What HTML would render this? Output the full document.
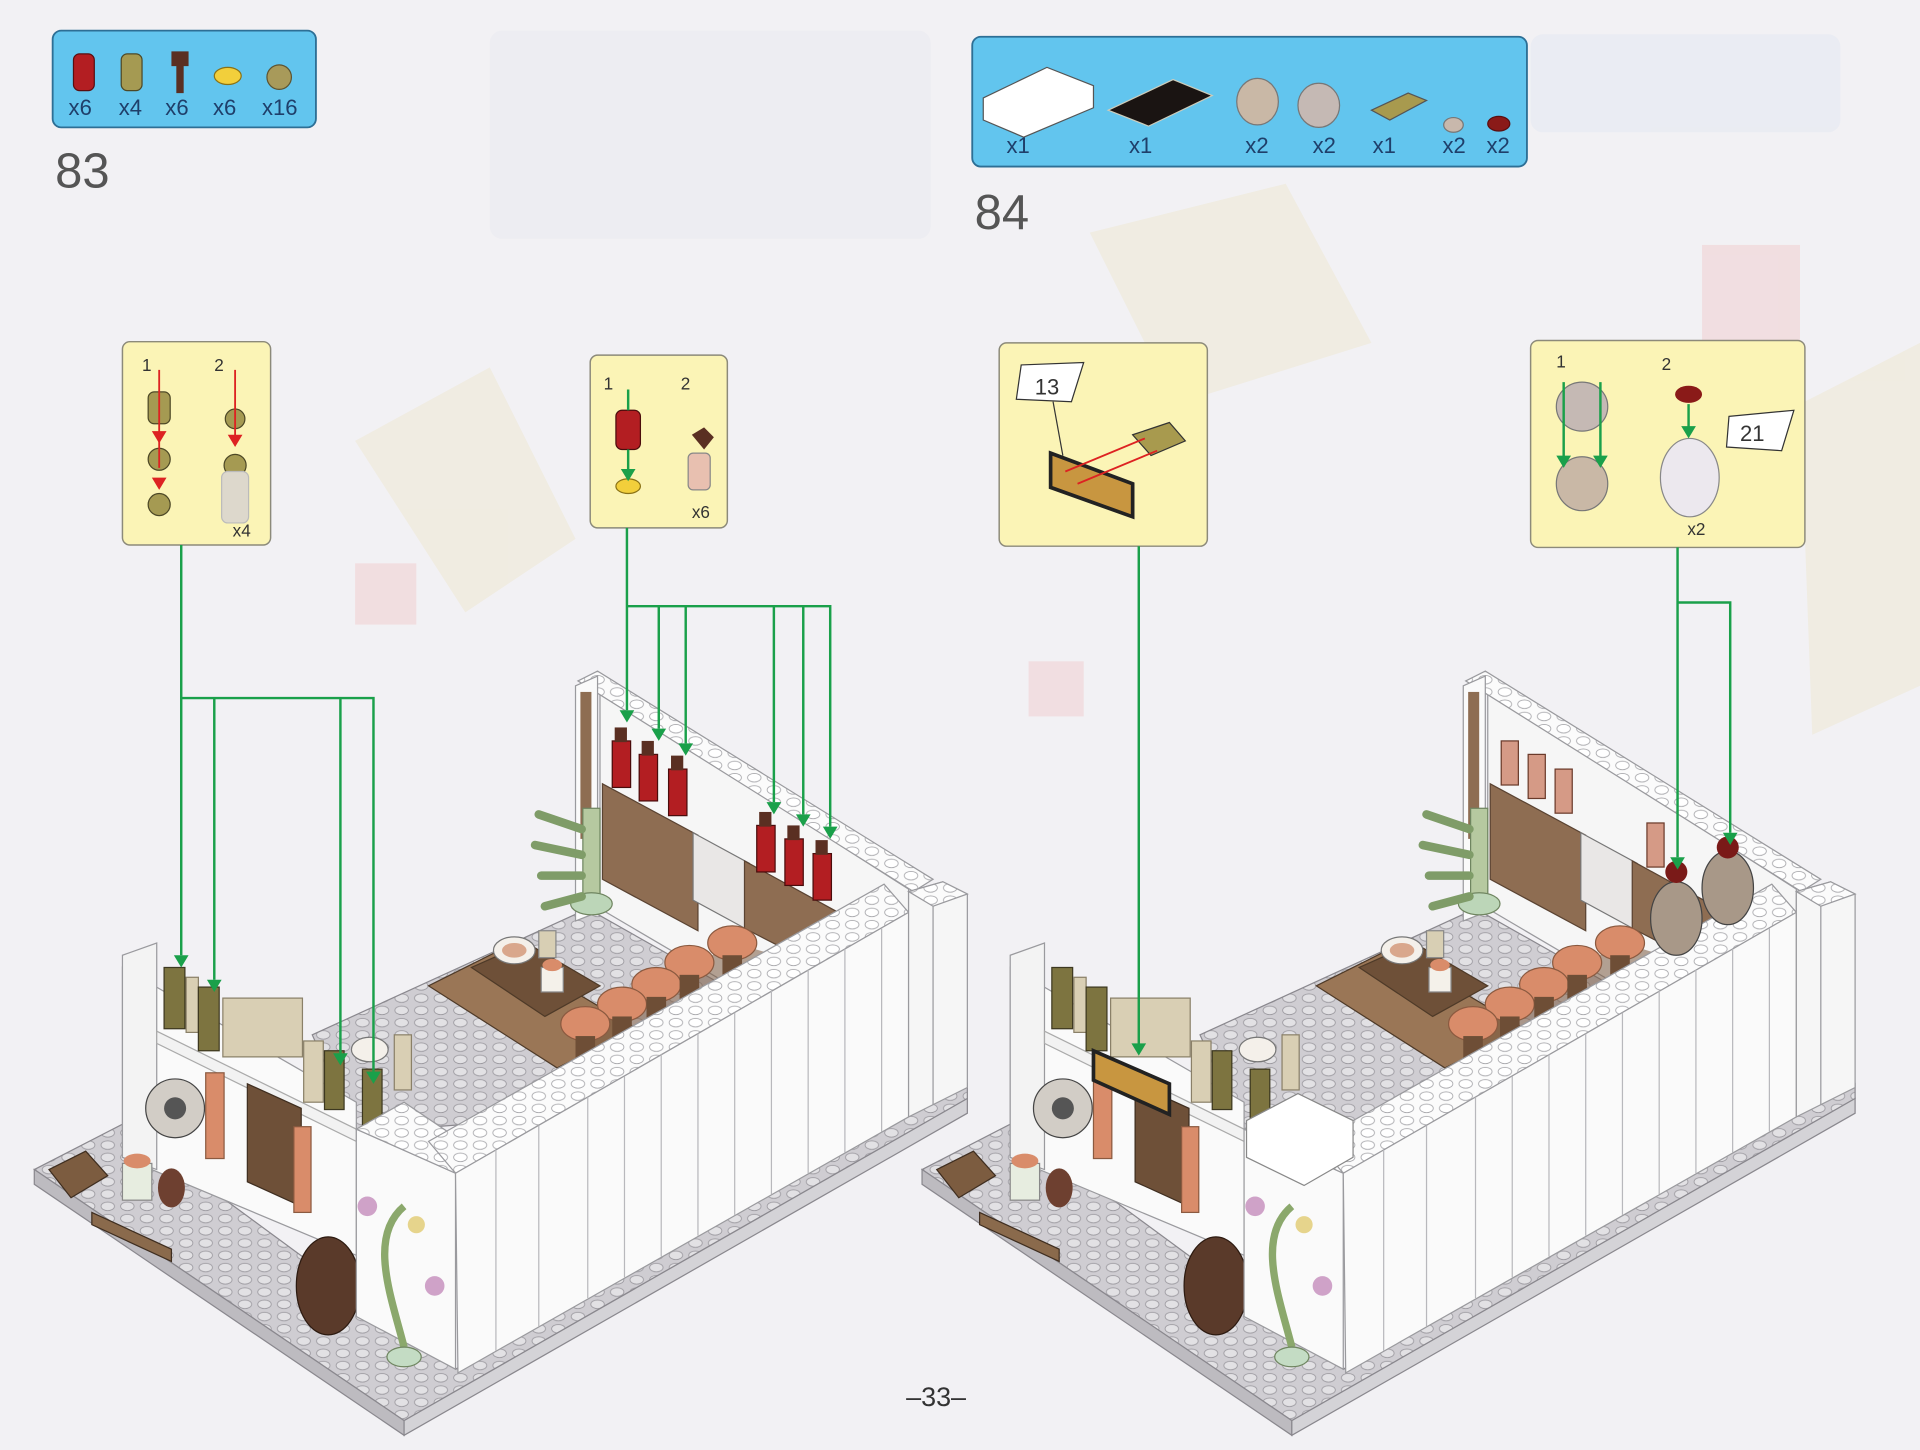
<!DOCTYPE html>
<html><head><meta charset="utf-8"><style>
html,body{margin:0;padding:0;background:#f2f1f4;}
svg{display:block}
text{font-family:"Liberation Sans",sans-serif}
</style></head><body>
<svg width="1920" height="1450" viewBox="0 0 1568 1184" preserveAspectRatio="none" xmlns="http://www.w3.org/2000/svg">
<defs>
<pattern id="studs" width="16" height="10" patternUnits="userSpaceOnUse">
<rect width="16" height="10" fill="#cfcdd2"/><ellipse cx="8" cy="5" rx="5.5" ry="3.5" fill="#e2e1e4" stroke="#9c9aa0" stroke-width="0.7"/>
</pattern>
<pattern id="wstuds" width="16" height="10" patternUnits="userSpaceOnUse">
<rect width="16" height="10" fill="#fbfbfb"/><ellipse cx="8" cy="5" rx="5.5" ry="3.5" fill="#fff" stroke="#a8a8ac" stroke-width="0.7"/>
</pattern>
<g id="bld">
 <!-- base plate -->
 <polygon points="28,955 100,918 372,1118 790,885 790,897 330,1160" fill="url(#studs)" stroke="#8a888e"/>
 <polygon points="28,955 330,1160 330,1172 28,967" fill="#bdbbc0" stroke="#8a888e"/>
 <polygon points="330,1160 790,897 790,909 330,1172" fill="#d4d3d7" stroke="#8a888e"/>
 <!-- interior floor -->
 <polygon points="255,845 480,742 742,890 291,925" fill="url(#studs)" stroke="#8a888e"/>
 <!-- back wall -->
 <polygon points="490,565 742,726 742,890 490,742" fill="#f6f6f6" stroke="#9a9a9e"/>
 <polygon points="472,556 488,548 762,718 746,728" fill="url(#wstuds)" stroke="#9a9a9e"/>
 <polygon points="470,560 488,552 488,745 470,752" fill="#fafafa" stroke="#9a9a9e"/>
 <rect x="474" y="565" width="9" height="120" fill="#8e6d52"/>
 <polygon points="492,640 570,682 570,760 492,718" fill="#8e6d52" stroke="#5a4332"/>
 <polygon points="566,680 612,705 612,760 566,735" fill="#e9e7e6" stroke="#777"/>
 <polygon points="608,703 690,748 690,800 608,758" fill="#8e6d52" stroke="#5a4332"/>
 <!-- bamboo -->
 <rect x="476" y="660" width="14" height="80" fill="#b6c9a0" stroke="#6f8560"/>
 <ellipse cx="483" cy="738" rx="17" ry="9" fill="#bcd6b8" stroke="#6f8560"/>
 <path d="M440,665 l35,12 M437,690 l38,8 M442,715 l33,0 M445,740 l30,-8" stroke="#7f9c68" stroke-width="7" stroke-linecap="round"/>
 <!-- furniture -->
 <polygon points="350,805 410,775 520,840 455,872" fill="#9a7656" stroke="#4e3a28"/>
 <polygon points="385,790 430,770 490,805 445,830" fill="#6e5038" stroke="#4e3a28"/>
 <ellipse cx="420" cy="776" rx="17" ry="11" fill="#f4f0ea" stroke="#777"/>
 <ellipse cx="420" cy="776" rx="10" ry="6" fill="#d9a78c"/>
 <rect x="442" y="790" width="18" height="20" fill="#f4f1ea" stroke="#888"/>
 <ellipse cx="451" cy="788" rx="8" ry="5" fill="#d98c6a"/>
 <rect x="440" y="760" width="14" height="22" fill="#d8cfb4" stroke="#888"/>
 <polygon points="470,840 600,770 700,800 600,870 500,905" fill="#7a5a40" opacity="0.55"/>
 <g fill="#d98c6a" stroke="#8b5a40">
  <ellipse cx="598" cy="770" rx="20" ry="14"/><ellipse cx="563" cy="786" rx="20" ry="14"/>
  <ellipse cx="536" cy="804" rx="20" ry="14"/><ellipse cx="508" cy="820" rx="20" ry="14"/>
  <ellipse cx="478" cy="836" rx="20" ry="14"/>
 </g>
 <g fill="#6e4e36"><rect x="470" y="846" width="16" height="30"/><rect x="500" y="830" width="16" height="30"/><rect x="528" y="814" width="16" height="30"/><rect x="555" y="796" width="16" height="30"/><rect x="590" y="780" width="16" height="30"/></g>
 <!-- left block (door face) -->
 <polygon points="100,790 291,900 291,1025 100,945" fill="#fafafa" stroke="#9a9a9e"/>
 <polygon points="100,780 128,770 128,955 100,945" fill="#f3f3f3" stroke="#9a9a9e"/>
 <polygon points="128,842 291,922 291,932 128,852" fill="#f2f2f2" stroke="#aaa"/>
 <!-- shelf items -->
 <rect x="134" y="790" width="17" height="50" fill="#7d7440" stroke="#3d3820"/>
 <rect x="152" y="798" width="10" height="45" fill="#d9cfb4" stroke="#8a8068"/>
 <rect x="162" y="806" width="17" height="52" fill="#7d7440" stroke="#3d3820"/>
 <rect x="182" y="815" width="65" height="48" fill="#d9cfb4" stroke="#8a8068"/>
 <rect x="248" y="850" width="16" height="50" fill="#d9cfb4" stroke="#8a8068"/>
 <rect x="265" y="858" width="16" height="48" fill="#7d7440" stroke="#3d3820"/>
 <rect x="296" y="873" width="16" height="48" fill="#7d7440" stroke="#3d3820"/>
 <ellipse cx="302" cy="857" rx="15" ry="10" fill="#f4f0ea" stroke="#777"/>
 <rect x="322" y="845" width="14" height="45" fill="#d9cfb4" stroke="#8a8068"/>
 <!-- door and lamp -->
 <circle cx="143" cy="905" r="24" fill="#d2cdc6" stroke="#444"/><circle cx="143" cy="905" r="9" fill="#555"/>
 <polygon points="202,885 246,905 246,985 202,965" fill="#6e5038" stroke="#3f2e20"/>
 <rect x="168" y="876" width="15" height="70" fill="#d98c6a" stroke="#8b5a40"/>
 <rect x="240" y="920" width="14" height="70" fill="#d98c6a" stroke="#8b5a40"/>
 <!-- pots and plants front -->
 <ellipse cx="268" cy="1050" rx="26" ry="40" fill="#5a3a2a" stroke="#2c1a10"/>
 <rect x="100" y="950" width="24" height="30" fill="#e7ede0" stroke="#888"/>
 <ellipse cx="112" cy="948" rx="11" ry="6" fill="#d98c6a"/>
 <ellipse cx="140" cy="970" rx="11" ry="16" fill="#6e4030"/>
 <polygon points="40,955 70,940 88,960 58,978" fill="#7c5c40" stroke="#3f2e20"/>
 <polygon points="75,990 140,1020 140,1030 75,1000" fill="#8a6a4c" stroke="#3f2e20"/>
 <!-- flower block -->
 <polygon points="291,922 372,958 372,1118 291,1075" fill="#fafafa" stroke="#9a9a9e"/>
 <polygon points="291,922 330,900 395,944 372,958" fill="url(#wstuds)" stroke="#9a9a9e"/>
 <path d="M330,1100 C320,1060 300,1010 330,985" stroke="#8ba86c" stroke-width="6" fill="none"/>
 <circle cx="300" cy="985" r="8" fill="#cfa2c8"/><circle cx="355" cy="1050" r="8" fill="#cfa2c8"/><circle cx="340" cy="1000" r="7" fill="#e6d48c"/>
 <ellipse cx="330" cy="1108" rx="14" ry="8" fill="#c4dcc4" stroke="#6f8560"/>
 <!-- front wall top strip -->
 <polygon points="350,932 722,722 742,745 372,958" fill="url(#wstuds)" stroke="#9a9a9e"/>
 <!-- front right face -->
 <polygon points="372,958 742,745 742,912 374,1121" fill="#fafafa" stroke="#9a9a9e"/>
 <g stroke="#b8b8bc" stroke-width="1">
  <line x1="405" y1="939" x2="405" y2="1103"/><line x1="440" y1="919" x2="440" y2="1083"/>
  <line x1="480" y1="896" x2="480" y2="1060"/><line x1="510" y1="879" x2="510" y2="1043"/>
  <line x1="540" y1="861" x2="540" y2="1026"/><line x1="570" y1="844" x2="570" y2="1009"/>
  <line x1="600" y1="827" x2="600" y2="992"/><line x1="630" y1="809" x2="630" y2="975"/>
  <line x1="660" y1="792" x2="660" y2="958"/><line x1="690" y1="775" x2="690" y2="941"/>
  <line x1="720" y1="758" x2="720" y2="924"/>
 </g>
 <!-- right end block -->
 <polygon points="742,728 770,720 790,730 790,888 742,912" fill="#f6f6f6" stroke="#9a9a9e"/>
 <polygon points="742,728 770,720 790,730 762,740" fill="url(#wstuds)" stroke="#9a9a9e"/>
 <line x1="762" y1="740" x2="762" y2="902" stroke="#9a9a9e"/>
</g>
</defs>

<!-- faint watermark -->
<g opacity="0.18">
<rect x="400" y="25" width="360" height="170" rx="10" fill="#d8dcea"/>
<rect x="1250" y="28" width="253" height="80" rx="10" fill="#c8d8ec"/>
<polygon points="290,360 400,300 470,440 380,500" fill="#e8d690"/>
<polygon points="890,190 1050,150 1120,280 960,330" fill="#e8d690"/>
<rect x="1390" y="200" width="80" height="80" fill="#f08a8a"/>
<rect x="290" y="460" width="50" height="50" fill="#f08a8a"/>
<rect x="840" y="540" width="45" height="45" fill="#f08a8a"/>
<polygon points="1470,330 1568,280 1568,560 1480,600" fill="#e8d690"/>
</g>

<!-- parts box 83 -->
<rect x="43" y="25" width="215" height="79" rx="7" fill="#62c5ee" stroke="#2d6f95" stroke-width="1.5"/>
<rect x="60" y="44" width="17" height="30" rx="5" fill="#b31e22" stroke="#5a0e10"/>
<rect x="99" y="44" width="17" height="30" rx="5" fill="#a59a52" stroke="#4d4826"/>
<path d="M140,42 h14 v12 h-4 v22 h-6 v-22 h-4z" fill="#5a2f22"/>
<ellipse cx="186" cy="62" rx="11" ry="7" fill="#f2cf3b" stroke="#8a7216"/>
<ellipse cx="228" cy="63" rx="10" ry="10" fill="#a89a5a" stroke="#5d5431"/>
<g font-size="18" fill="#1f3f6a">
<text x="56" y="94">x6</text><text x="97" y="94">x4</text><text x="135" y="94">x6</text><text x="174" y="94">x6</text><text x="214" y="94">x16</text>
</g>
<text x="45" y="153" font-size="40" fill="#555">83</text>

<!-- parts box 84 -->
<rect x="794" y="30" width="453" height="106" rx="7" fill="#62c5ee" stroke="#2d6f95" stroke-width="1.5"/>
<polygon points="803,80 855,55 893,70 893,88 836,112 803,98" fill="#fff" stroke="#555"/>
<polygon points="905,90 958,65 990,78 938,103" fill="#1a1412" stroke="#ccb"/>
<ellipse cx="1027" cy="83" rx="17" ry="19" fill="#c9b8a6" stroke="#777"/>
<ellipse cx="1077" cy="86" rx="17" ry="18" fill="#c5b9b4" stroke="#777"/>
<polygon points="1120,90 1150,76 1165,82 1135,98" fill="#a89a4e" stroke="#555"/>
<ellipse cx="1187" cy="102" rx="8" ry="6" fill="#c8b8ac" stroke="#777"/>
<ellipse cx="1224" cy="101" rx="9" ry="6" fill="#8a1a18" stroke="#5a0e10"/>
<g font-size="18" fill="#1f3f6a">
<text x="822" y="125">x1</text><text x="922" y="125">x1</text><text x="1017" y="125">x2</text><text x="1072" y="125">x2</text><text x="1121" y="125">x1</text><text x="1178" y="125">x2</text><text x="1214" y="125">x2</text>
</g>
<text x="796" y="187" font-size="40" fill="#555">84</text>

<!-- buildings -->
<use href="#bld"/>
<use href="#bld" transform="translate(725,0)"/>

<!-- step 83 lanterns -->
<g fill="#b31e22" stroke="#4a0c0c">
<rect x="500" y="605" width="15" height="38"/><rect x="522" y="616" width="15" height="38"/><rect x="546" y="628" width="15" height="38"/>
<rect x="618" y="674" width="15" height="38"/><rect x="641" y="685" width="15" height="38"/><rect x="664" y="697" width="15" height="38"/>
</g>
<g fill="#5a2f22"><rect x="502" y="594" width="10" height="12"/><rect x="524" y="605" width="10" height="12"/><rect x="548" y="617" width="10" height="12"/>
<rect x="620" y="663" width="10" height="12"/><rect x="643" y="674" width="10" height="12"/><rect x="666" y="686" width="10" height="12"/></g>
<!-- step 84 extras -->
<g fill="#d59a86" stroke="#6a3a2a">
<rect x="1226" y="605" width="14" height="36"/><rect x="1248" y="616" width="14" height="36"/><rect x="1270" y="628" width="14" height="36"/>
<rect x="1345" y="672" width="14" height="36"/>
</g>
<ellipse cx="1369" cy="750" rx="21" ry="30" fill="#a89888" stroke="#444"/>
<ellipse cx="1411" cy="725" rx="21" ry="30" fill="#a89888" stroke="#444"/>
<circle cx="1369" cy="712" r="9" fill="#7a1a18"/><circle cx="1411" cy="692" r="9" fill="#7a1a18"/>
<polygon points="893,858 955,885 955,910 893,882" fill="#c89640" stroke="#222" stroke-width="3"/>
<polygon points="1018,915 1060,893 1105,915 1105,945 1065,968 1018,945" fill="#fff" stroke="#888"/>

<!-- callouts -->
<rect x="100" y="279" width="121" height="166" rx="6" fill="#fbf4b6" stroke="#8c8a7a" stroke-width="1.2"/>
<text x="116" y="303" font-size="14" fill="#333">1</text><text x="175" y="303" font-size="14" fill="#333">2</text>
<rect x="121" y="320" width="18" height="26" rx="5" fill="#a59a52" stroke="#4d4826"/>
<ellipse cx="130" cy="375" rx="9" ry="9" fill="#a59a52" stroke="#4d4826"/>
<ellipse cx="130" cy="412" rx="9" ry="9" fill="#a59a52" stroke="#4d4826"/>
<ellipse cx="192" cy="342" rx="8" ry="8" fill="#a59a52" stroke="#4d4826"/>
<ellipse cx="192" cy="380" rx="9" ry="9" fill="#a59a52" stroke="#4d4826"/>
<rect x="181" y="385" width="22" height="42" rx="5" fill="#ddd8cc" stroke="#bbb"/>
<text x="190" y="438" font-size="14" fill="#333">x4</text>
<path d="M130,302 v80 M192,302 v55" stroke="#d22" stroke-width="1.5"/>

<rect x="482" y="290" width="112" height="141" rx="6" fill="#fbf4b6" stroke="#8c8a7a" stroke-width="1.2"/>
<text x="493" y="318" font-size="14" fill="#333">1</text><text x="556" y="318" font-size="14" fill="#333">2</text>
<rect x="503" y="335" width="20" height="32" rx="5" fill="#b31e22" stroke="#4a0c0c"/>
<ellipse cx="513" cy="397" rx="10" ry="6" fill="#f2cf3b" stroke="#8a7216"/>
<rect x="562" y="370" width="18" height="30" rx="4" fill="#e8c0b0" stroke="#888"/>
<path d="M565,355 l10,-6 l8,8 l-8,10z" fill="#5a2f22"/>
<text x="565" y="423" font-size="14" fill="#333">x6</text>

<rect x="816" y="280" width="170" height="166" rx="6" fill="#fbf4b6" stroke="#8c8a7a" stroke-width="1.2"/>
<polygon points="834,298 885,296 875,328 830,326" fill="#fff" stroke="#333"/>
<text x="845" y="322" font-size="18" fill="#333">13</text>
<line x1="860" y1="328" x2="868" y2="372" stroke="#333"/>
<polygon points="858,370 925,395 925,422 858,398" fill="#c89640" stroke="#222" stroke-width="3"/>
<polygon points="925,355 955,345 968,360 940,372" fill="#a89a4e" stroke="#333"/>
<path d="M870,385 L935,358 M880,395 L945,368" stroke="#d22" stroke-width="1.5"/>

<rect x="1250" y="278" width="224" height="169" rx="6" fill="#fbf4b6" stroke="#8c8a7a" stroke-width="1.2"/>
<text x="1271" y="300" font-size="14" fill="#333">1</text><text x="1357" y="302" font-size="14" fill="#333">2</text>
<ellipse cx="1292" cy="332" rx="21" ry="20" fill="#c5b9b4" stroke="#777"/>
<ellipse cx="1292" cy="395" rx="21" ry="22" fill="#c9b8a6" stroke="#777"/>
<ellipse cx="1379" cy="322" rx="11" ry="7" fill="#8a1a18"/>
<ellipse cx="1380" cy="390" rx="24" ry="32" fill="#ece8ee" stroke="#888"/>
<polygon points="1412,340 1465,335 1455,368 1410,365" fill="#fff" stroke="#333"/>
<text x="1421" y="360" font-size="18" fill="#333">21</text>
<text x="1378" y="437" font-size="14" fill="#333">x2</text>

<!-- green connectors -->
<g stroke="#1aa04a" stroke-width="2" fill="none">
<path d="M148,445 V780 M148,570 H305 V875 M175,570 V800 M278,570 V860"/>
<path d="M512,431 V580 M512,495 H678 V675 M538,495 V595 M560,495 V607 M632,495 V655 M656,495 V665"/>
<path d="M930,446 V855"/>
<path d="M1370,447 V700 M1370,492 H1413 V680"/>
<path d="M1277,312 V380 M1307,312 V380 M1379,330 V350"/>
<path d="M513,318 V335 M513,367 V385"/>
</g>
<g fill="#1aa04a">
<polygon points="142,780 154,780 148,790"/><polygon points="169,800 181,800 175,810"/>
<polygon points="272,860 284,860 278,870"/><polygon points="299,875 311,875 305,885"/>
<polygon points="506,580 518,580 512,590"/><polygon points="532,595 544,595 538,605"/>
<polygon points="554,607 566,607 560,617"/><polygon points="626,655 638,655 632,665"/>
<polygon points="650,665 662,665 656,675"/><polygon points="672,675 684,675 678,685"/>
<polygon points="924,852 936,852 930,862"/>
<polygon points="1364,700 1376,700 1370,710"/><polygon points="1407,680 1419,680 1413,690"/>
<polygon points="1271,372 1283,372 1277,382"/><polygon points="1301,372 1313,372 1307,382"/>
<polygon points="1373,348 1385,348 1379,358"/><polygon points="507,383 519,383 513,393"/>
</g>
<g fill="#d22">
<polygon points="124,352 136,352 130,362"/><polygon points="124,390 136,390 130,400"/>
<polygon points="186,355 198,355 192,365"/>
</g>

<text x="740" y="1148" font-size="22" fill="#333">–33–</text>
</svg>
</body></html>
